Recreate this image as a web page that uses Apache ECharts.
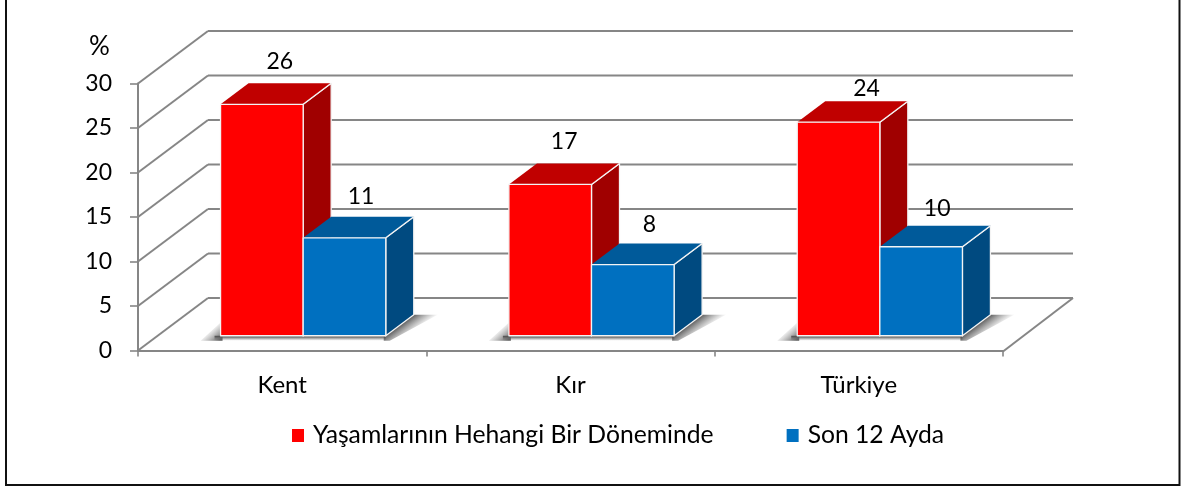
<!DOCTYPE html>
<html><head><meta charset="utf-8">
<style>html,body{margin:0;padding:0;background:#fff}#c{width:1181px;height:488px}</style>
<script src="https://cdn.jsdelivr.net/npm/echarts@6/dist/echarts.min.js"></script>
</head><body><div id="c"></div>
<script>
const categories = ['Kent', 'Kır', 'Türkiye'];
const lifetimeName = 'Yaşamlarının Hehangi Bir Döneminde';
const recentName = 'Son 12 Ayda';
const lifetimeValues = [26, 17, 24];
const recentValues = [11, 8, 10];
const valueTicks = [0, 5, 10, 15, 20, 25, 30];

const FONT = 'Lato';
const WALL_DX = 70, WALL_DY = -52.5;
const BAR_OFF = [0.3 * WALL_DX, 0.3 * WALL_DY + 1];
const BAR_DEPTH = [0.4 * WALL_DX, 0.4 * WALL_DY];
const BAR_W = 0.2865;
const GRID_COLOR = '#868686';
const GRID_LINE = { stroke: GRID_COLOR, lineWidth: 2, fill: null };
const lifetimeNudge = [[18, -43], [14, -43], [28, -34]];
const recentNudge = [[16.5, -41], [16.5, -40], [16, -38]];
const SHADE = 'rgba(85,85,85,0.95)', CLEAR = 'rgba(130,130,130,0)';

function wallItem(params, api) {
  const cs = params.coordSys;
  const y = api.coord([0, api.value(1)])[1];
  const x0 = cs.x, x1 = cs.x + cs.width;
  const bx = x0 + WALL_DX, by = y + WALL_DY;
  const line = (a, b, c, d) => ({ type: 'line', shape: { x1: a, y1: b, x2: c, y2: d }, style: GRID_LINE, silent: true });
  const children = [line(x0, y, bx, by), line(bx, by, x1 + WALL_DX, by)];
  if (api.value(1) === 0) children.push(line(x1, y + 1, x1 + WALL_DX, by));
  return { type: 'group', children };
}

function shadowItem(params, api) {
  const c = api.coord([api.value(0), 0]);
  const bw = api.size([1, 0])[0] * BAR_W;
  const cx = c[0] + BAR_OFF[0], yb = c[1] + BAR_OFF[1];
  const l = cx - bw, r = cx + bw;
  const dx = BAR_DEPTH[0], dy = BAR_DEPTH[1];
  const G = (x1, y1, x2, y2) => new echarts.graphic.LinearGradient(x1, y1, x2, y2, [{ offset: 0, color: SHADE }, { offset: 1, color: CLEAR }], true);
  const poly = (points, fill) => ({ type: 'polygon', silent: true, shape: { points }, style: { fill } });
  return {
    type: 'group',
    children: [
      poly([[l + 2, yb + 5], [l + 2, yb - 15], [l - 20, yb + 5]], G(l + 1, yb + 3, l - 9, yb - 8)),
      poly([[l - 6, yb], [r, yb], [r, yb + 5], [l - 6, yb + 5]], G(l, yb + 1, l, yb + 5)),
      poly([[r - 2, yb + 1], [r + dx, yb + dy], [r + dx + 24, yb + dy], [r + 4, yb + 5], [r - 2, yb + 5]], G(r + dx / 2, yb + dy / 2, r + dx / 2 + 9, yb + dy / 2 + 12))
    ]
  };
}

function barItem(side, front, top, dark, nudge) {
  return function (params, api) {
    const i = api.value(0), v = api.value(1);
    const t = api.coord([i, v]), b = api.coord([i, 0]);
    const bw = api.size([1, 0])[0] * BAR_W;
    const cx = t[0] + BAR_OFF[0];
    const x0 = side < 0 ? cx - bw : cx, x1 = x0 + bw;
    const yt = t[1] + BAR_OFF[1], yb = b[1] + BAR_OFF[1];
    const dx = BAR_DEPTH[0], dy = BAR_DEPTH[1];
    const edge = { stroke: '#f4f4f4', lineWidth: 1.3, lineJoin: 'round' };
    const n = nudge[i];
    return {
      type: 'group',
      children: [
        { type: 'polygon', shape: { points: [[x1, yt], [x1 + dx, yt + dy], [x1 + dx, yb + dy], [x1, yb]] }, style: Object.assign({ fill: dark }, edge) },
        { type: 'polygon', shape: { points: [[x0, yt], [x0 + dx, yt + dy], [x1 + dx, yt + dy], [x1, yt]] }, style: { fill: top, stroke: null } },
        { type: 'line', shape: { x1: x1, y1: yt, x2: x1 + dx, y2: yt + dy }, style: Object.assign({ fill: null }, edge) },
        { type: 'rect', shape: { x: x0, y: yt, width: bw, height: yb - yt }, style: Object.assign({ fill: front }, edge) },
        { type: 'text', z2: 50, x: (x0 + x1) / 2 + n[0], y: yt + n[1], style: { text: String(v), fill: '#000', font: '23px ' + FONT, align: 'center', verticalAlign: 'middle' } }
      ]
    };
  };
}

const chart = echarts.init(document.getElementById('c'), null, { renderer: 'canvas' });
chart.setOption({
  animation: false,
  backgroundColor: '#fff',
  grid: { left: 138, right: 178, top: 83.5, bottom: 137.5, containLabel: false },
  title: { text: '%', left: 84, top: 29, textStyle: { fontFamily: FONT, fontSize: 26, fontWeight: 'normal', color: '#000' } },
  legend: {
    data: [lifetimeName, recentName],
    left: 287, top: 418, itemWidth: 12, itemHeight: 13, itemGap: 73, icon: 'rect',
    textStyle: { fontFamily: FONT, fontSize: 24.7, color: '#000', padding: [0, 0, 0, 4] }
  },
  xAxis: {
    type: 'category', data: categories, boundaryGap: true, offset: 1,
    axisLine: { lineStyle: { color: GRID_COLOR, width: 2 } },
    axisTick: { show: true, length: 6, lineStyle: { color: GRID_COLOR, width: 1.6 } },
    axisLabel: { fontFamily: FONT, fontSize: 24, color: '#000', margin: 22 },
    splitLine: { show: false }
  },
  yAxis: {
    type: 'value', min: 0, max: 30, interval: 5,
    axisLine: { show: true, lineStyle: { color: GRID_COLOR, width: 2 } },
    axisTick: { show: true, length: 8, lineStyle: { color: GRID_COLOR, width: 1.6 } },
    axisLabel: { fontFamily: FONT, fontSize: 23, color: '#000', margin: 26 },
    splitLine: { show: false }
  },
  graphic: [
    { type: 'rect', silent: true, shape: { x: 6, y: -5, width: 1173.5, height: 490 }, style: { fill: null, stroke: '#111', lineWidth: 2 }, z: 0 }
  ],
  series: [
    { type: 'custom', name: 'walls', z: 1, silent: true, coordinateSystem: 'cartesian2d', encode: { x: 0, y: 1 }, data: valueTicks.map(t => [0, t]), renderItem: wallItem },
    { type: 'custom', name: 'shadows', z: 2, silent: true, coordinateSystem: 'cartesian2d', encode: { x: 0, y: 1 }, data: categories.map((c, i) => [i, 0]), renderItem: shadowItem },
    { type: 'custom', name: lifetimeName, z: 3, coordinateSystem: 'cartesian2d', encode: { x: 0, y: 1 }, itemStyle: { color: '#ff0000' }, data: lifetimeValues.map((v, i) => [i, v]), renderItem: barItem(-1, '#ff0000', '#c00000', '#a00000', lifetimeNudge) },
    { type: 'custom', name: recentName, z: 4, coordinateSystem: 'cartesian2d', encode: { x: 0, y: 1 }, itemStyle: { color: '#0070c0' }, data: recentValues.map((v, i) => [i, v]), renderItem: barItem(1, '#0070c0', '#005a9a', '#004a80', recentNudge) }
  ]
});
</script></body></html>
